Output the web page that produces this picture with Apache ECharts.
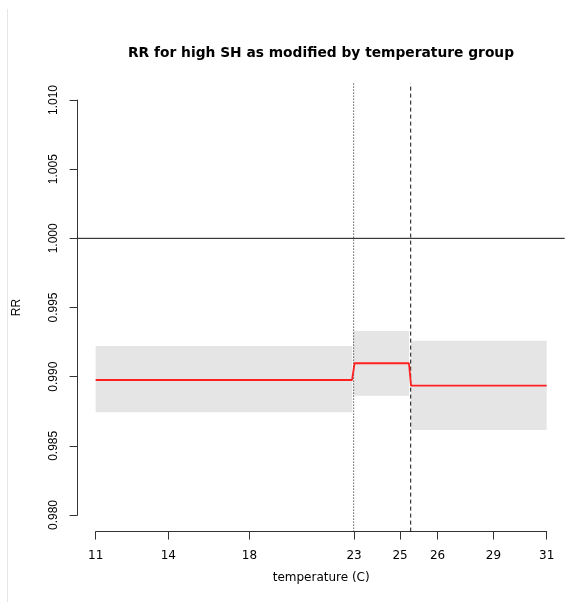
<!DOCTYPE html>
<html>
<head>
<meta charset="utf-8">
<title>RR for high SH as modified by temperature group</title>
<script src="https://cdn.jsdelivr.net/npm/echarts@6/dist/echarts.min.js"></script>
<style>
  html, body { margin: 0; padding: 0; background: #fff; }
  #chart { width: 584px; height: 602px; }
</style>
</head>
<body>
<div id="chart"></div>
<script>
// x runs along the temperature distribution (0 = coldest, 100 = hottest);
// tick labels give the temperature in degrees C at those positions.
const tickPos = [0, 16.1, 34.1, 57.3, 67.5, 75.8, 88.2, 100];
const tickLabels = ['11', '14', '18', '23', '25', '26', '29', '31'];

// Estimated RR curve (red) across the three temperature groups
const rrX = [0, 56.85, 57.4, 69.47, 69.92, 100];
const rrY = [0.98976, 0.98976, 0.99097, 0.99097, 0.98935, 0.98935];

// Confidence bands for each temperature group
const bandStart = [0, 57.1, 69.85];
const bandEnd = [56.9, 69.47, 100];
const bandLow = [0.98742, 0.98862, 0.98614];
const bandHigh = [0.99222, 0.99330, 0.99260];

// Group cut points (dotted, dashed) and the null RR reference
const cutPoints = [57.2, 69.85];
const refRR = 1.0;

const xMin = 0, xMax = 100, yMin = 0.980, yMax = 1.010;
const xPad = (xMax - xMin) * 0.04, yPad = (yMax - yMin) * 0.04;

const inner = { left: 95.67, right: 37.33, top: 100, bottom: 87 };
const padX = (584 - inner.left - inner.right) * 0.04;
const padY = (602 - inner.top - inner.bottom) * 0.04;

const wideFont = '"DejaVu Sans", Verdana, sans-serif';
const narrowFont = '"Liberation Sans", Arial, Helvetica, sans-serif';

const chart = echarts.init(document.getElementById('chart'), null, { renderer: 'canvas' });

const bandData = bandStart.map((s, i) => [s, bandEnd[i], bandLow[i], bandHigh[i]]);

chart.setOption({
  animation: false,
  backgroundColor: '#ffffff',
  title: {
    text: 'RR for high SH as modified by temperature group',
    left: 316,
    textAlign: 'center',
    top: 41,
    textStyle: { fontFamily: wideFont, fontSize: 13.8, fontWeight: 'bold', color: '#000' }
  },
  grid: [
    // full plotting region (4% padding around the data range)
    {
      left: inner.left - padX, right: inner.right - padX,
      top: inner.top - padY, bottom: inner.bottom - padY,
      containLabel: false
    },
    // data range, carries the visible axes
    {
      left: inner.left, right: inner.right, top: inner.top, bottom: inner.bottom,
      containLabel: false
    }
  ],
  xAxis: [
    {
      gridIndex: 0, type: 'value', min: xMin - xPad, max: xMax + xPad,
      show: false
    },
    {
      gridIndex: 1, type: 'value', min: xMin, max: xMax,
      offset: padY,
      name: 'temperature (C)',
      nameLocation: 'middle',
      nameGap: 40,
      nameTextStyle: { fontFamily: wideFont, fontSize: 12, color: '#000' },
      axisLine: { show: true, onZero: false, lineStyle: { color: '#333', width: 1 } },
      axisTick: { show: true, length: 8, customValues: tickPos, lineStyle: { color: '#333' } },
      axisLabel: {
        customValues: tickPos,
        margin: 18,
        fontFamily: wideFont, fontSize: 12, color: '#000',
        formatter: (v) => {
          const i = tickPos.findIndex(p => Math.abs(p - v) < 1e-6);
          return i >= 0 ? tickLabels[i] : '';
        }
      },
      splitLine: { show: false }
    }
  ],
  yAxis: [
    {
      gridIndex: 0, type: 'value', min: yMin - yPad, max: yMax + yPad,
      show: false
    },
    {
      gridIndex: 1, type: 'value', min: yMin, max: yMax, interval: 0.005,
      offset: padX,
      name: 'RR',
      nameLocation: 'middle',
      nameGap: 55,
      nameRotate: 90,
      nameTextStyle: { fontFamily: narrowFont, fontSize: 12, color: '#000' },
      axisLine: { show: true, onZero: false, lineStyle: { color: '#333', width: 1 } },
      axisTick: { show: true, length: 8, lineStyle: { color: '#333' } },
      axisLabel: {
        rotate: 90,
        margin: 17.5,
        align: 'center',
        verticalAlign: 'bottom',
        fontFamily: narrowFont, fontSize: 12, color: '#000',
        formatter: (v) => v.toFixed(3)
      },
      splitLine: { show: false }
    }
  ],
  series: [
    {
      name: 'band',
      type: 'custom',
      xAxisIndex: 1, yAxisIndex: 1,
      data: bandData,
      renderItem: (params, api) => {
        const p0 = api.coord([api.value(0), api.value(3)]);
        const p1 = api.coord([api.value(1), api.value(2)]);
        return {
          type: 'rect',
          shape: { x: p0[0], y: p0[1], width: p1[0] - p0[0], height: p1[1] - p0[1] },
          style: { fill: '#e5e5e5' }
        };
      },
      silent: true,
      z: 1
    },
    {
      name: 'reference',
      type: 'line',
      xAxisIndex: 0, yAxisIndex: 0,
      data: [[xMin - xPad, refRR], [xMax + xPad, refRR]],
      showSymbol: false,
      lineStyle: { color: '#111', width: 1 },
      silent: true,
      z: 3
    },
    {
      name: 'cut dotted',
      type: 'line',
      xAxisIndex: 0, yAxisIndex: 0,
      data: [[cutPoints[0], yMin - yPad], [cutPoints[0], yMax + yPad]],
      showSymbol: false,
      lineStyle: { color: '#111', width: 1, type: [1, 2] },
      silent: true,
      z: 4
    },
    {
      name: 'cut dashed',
      type: 'line',
      xAxisIndex: 0, yAxisIndex: 0,
      data: [[cutPoints[1], yMin - yPad], [cutPoints[1], yMax + yPad]],
      showSymbol: false,
      lineStyle: { color: '#111', width: 1, type: [4, 3] },
      silent: true,
      z: 4
    },
    {
      name: 'RR',
      type: 'line',
      xAxisIndex: 1, yAxisIndex: 1,
      data: rrX.map((x, i) => [x, rrY[i]]),
      showSymbol: false,
      lineStyle: { color: '#ff2020', width: 1.8 },
      silent: true,
      z: 5
    }
  ],
  graphic: [
    {
      type: 'line',
      shape: { x1: 7.5, y1: 9, x2: 7.5, y2: 602 },
      style: { stroke: '#e6e6e6', lineWidth: 1 },
      silent: true
    }
  ]
});
</script>
</body>
</html>
